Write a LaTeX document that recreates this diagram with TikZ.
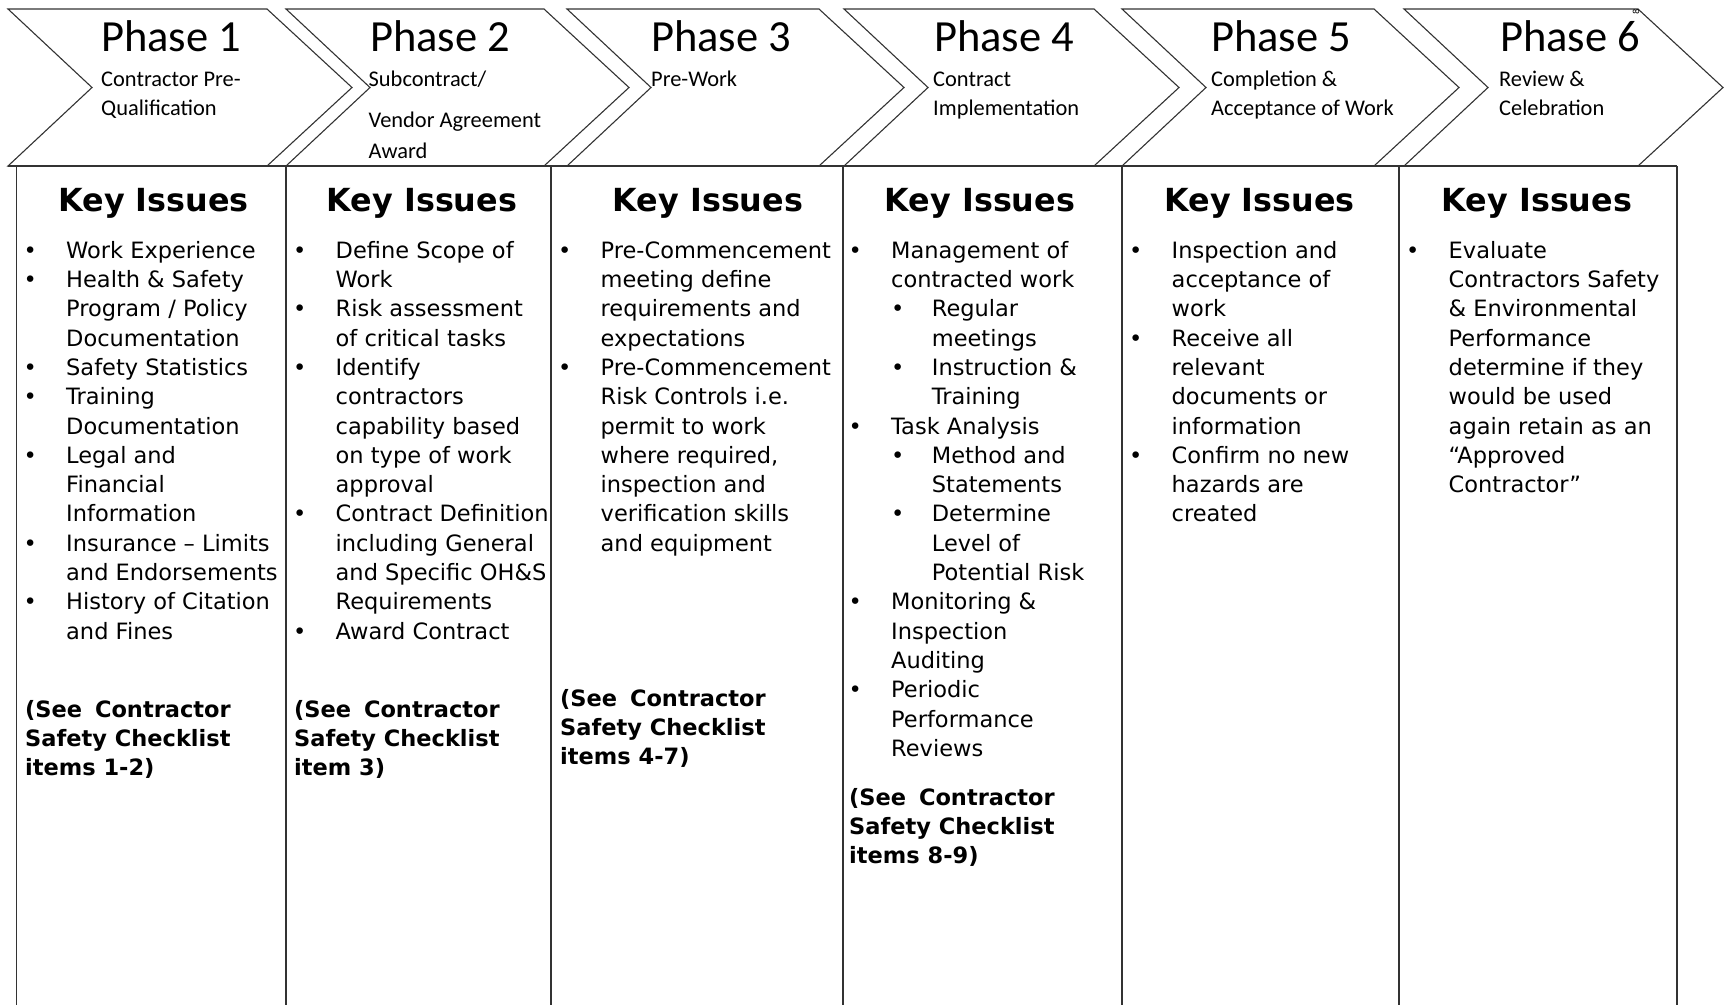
\documentclass[tikz,border=0pt]{standalone}
\usepackage{fontspec}
\setmainfont{DejaVu Sans}
\newfontfamily\calfont{Carlito}
\newcommand\bl{\makebox[42.5pt][l]{\textbullet}}
\newcommand\cl{\makebox[42.5pt]{}}
\newcommand\sbl{\cl\makebox[40.7pt][l]{\textbullet}}
\newcommand\scl{\cl\makebox[40.7pt]{}}
\tikzset{
  chev/.style={draw=black!80, line width=1.1pt, fill=white, line join=miter},
  rulel/.style={draw=black!80, line width=1.1pt},
  phasettl/.style={anchor=base west, inner sep=0pt, font=\calfont\fontsize{44.5}{50}\selectfont},
  phasesub/.style={anchor=north west, inner sep=0pt, align=left, font=\calfont\fontsize{22.4}{29.7}\selectfont},
  keyttl/.style={anchor=base, inner sep=0pt, font=\bfseries\fontsize{31.8}{36}\selectfont},
  body/.style={anchor=north west, inner sep=0pt, align=left, font=\fontsize{22.5}{29.3}\selectfont},
  seebox/.style={anchor=north west, inner sep=0pt, align=left, font=\bfseries\fontsize{22.5}{29.3}\selectfont},
}
\begin{document}
\begin{tikzpicture}[x=1pt,y=-1pt]
\useasboundingbox (0,0) rectangle (1725,1005);
% chevrons
\foreach \tl/\tr in {8/267, 286/544, 567/819, 844/1094, 1122/1374, 1404/1638}{
  \path[chev] (\tl,9) -- (\tr,9) -- ({\tr+85},87.5) -- (\tr,166) -- (\tl,166) -- ({\tl+84},87.5) -- cycle;
}
% table rules
\draw[rulel] (8,166) -- (1677,166);
\foreach \vx in {16.7, 286, 551, 843, 1122, 1399, 1677}{
  \draw[rulel] (\vx,166) -- (\vx,1005);
}
\node[inner sep=0pt, rotate=90, font=\fontsize{8.5}{10}\selectfont] (mark) at (1636,11.5) {8};
% phase titles
\node[phasettl] (p1) at (101,51.8) {Phase 1};
\node[phasettl] (p2) at (370,51.8) {Phase 2};
\node[phasettl] (p3) at (651,51.8) {Phase 3};
\node[phasettl] (p4) at (934,51.8) {Phase 4};
\node[phasettl] (p5) at (1211,51.8) {Phase 5};
\node[phasettl] (p6) at (1500,51.8) {Phase 6};
% subtitles
\node[phasesub] (s1) at (101,65.1) {\strut Contractor Pre-\\Qualification};
\node[phasesub] (s2) at (368.5,65.1) {\strut Subcontract/\\[12.1pt]Vendor Agreement\\[0.8pt]Award};
\node[phasesub] (s3) at (651,65.1) {\strut Pre-Work};
\node[phasesub] (s4) at (933,65.1) {\strut Contract\\Implementation};
\node[phasesub] (s5) at (1211,65.1) {\strut Completion \&\\Acceptance of Work};
\node[phasesub] (s6) at (1499,65.1) {\strut Review \&\\Celebration};
% key issues titles
\node[keyttl] (k1) at (153.5,211.7) {Key Issues};
\node[keyttl] (k2) at (422,211.7) {Key Issues};
\node[keyttl] (k3) at (708,211.7) {Key Issues};
\node[keyttl] (k4) at (980,211.7) {Key Issues};
\node[keyttl] (k5) at (1259.5,211.7) {Key Issues};
\node[keyttl] (k6) at (1537,211.7) {Key Issues};
% bodies
\node[body] (b1) at (23.5,237.5) {\bl Work Experience\strut\\
\bl Health \& Safety\\
\cl Program / Policy\\
\cl Documentation\\
\bl Safety Statistics\\
\bl Training\\
\cl Documentation\\
\bl Legal and\\
\cl Financial\\
\cl Information\\
\bl Insurance – Limits\\
\cl and Endorsements\\
\bl History of Citation\\
\cl and Fines};
\node[body] (b2) at (293,237.5) {\bl Define Scope of\strut\\
\cl Work\\
\bl Risk assessment\\
\cl of critical tasks\\
\bl Identify\\
\cl contractors\\
\cl capability based\\
\cl on type of work\\
\cl approval\\
\bl Contract Definition\\
\cl including General\\
\cl and Specific OH\&S\\
\cl Requirements\\
\bl Award Contract};
\node[body] (b3) at (558,237.5) {\bl Pre-Commencement\strut\\
\cl meeting define\\
\cl requirements and\\
\cl expectations\\
\bl Pre-Commencement\\
\cl Risk Controls i.e.\\
\cl permit to work\\
\cl where required,\\
\cl inspection and\\
\cl verification skills\\
\cl and equipment};
\node[body] (b4) at (848.5,237.5) {\bl Management of\strut\\
\cl contracted work\\
\sbl Regular\\
\scl meetings\\
\sbl Instruction \&\\
\scl Training\\
\bl Task Analysis\\
\sbl Method and\\
\scl Statements\\
\sbl Determine\\
\scl Level of\\
\scl Potential Risk\\
\bl Monitoring \&\\
\cl Inspection\\
\cl Auditing\\
\bl Periodic\\
\cl Performance\\
\cl Reviews};
\node[body] (b5) at (1129,237.5) {\bl Inspection and\strut\\
\cl acceptance of\\
\cl work\\
\bl Receive all\\
\cl relevant\\
\cl documents or\\
\cl information\\
\bl Confirm no new\\
\cl hazards are\\
\cl created};
\node[body] (b6) at (1406,237.5) {\bl Evaluate\strut\\
\cl Contractors Safety\\
\cl \& Environmental\\
\cl Performance\\
\cl determine if they\\
\cl would be used\\
\cl again retain as an\\
\cl “Approved\\
\cl Contractor”};
% checklist references
\node[seebox] (c1) at (25,696.3) {\strut(See \hspace{5pt}Contractor\\Safety Checklist\\items 1-2)};
\node[seebox] (c2) at (294,696.3) {\strut(See \hspace{5pt}Contractor\\Safety Checklist\\item 3)};
\node[seebox] (c3) at (560,685.3) {\strut(See \hspace{5pt}Contractor\\Safety Checklist\\items 4-7)};
\node[seebox] (c4) at (849,784.3) {\strut(See \hspace{5pt}Contractor\\Safety Checklist\\items 8-9)};
\end{tikzpicture}
\end{document}
